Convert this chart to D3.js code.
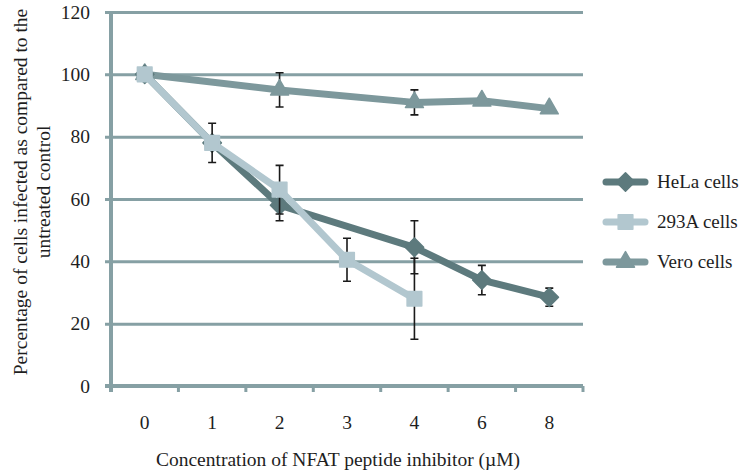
<!DOCTYPE html>
<html>
<head>
<meta charset="utf-8">
<script src="https://cdn.jsdelivr.net/npm/d3@7.9.0/dist/d3.min.js"></script>
<style>
  body { margin: 0; background: #fff; }
  svg { display: block; font-family: "Liberation Serif", "Times New Roman", serif; }
</style>
</head>
<body>
<svg id="chart" width="739" height="474"></svg>
<script>
/* --- Data --- */
const concentrations = ['0', '1', '2', '3', '4', '6', '8'];
const yTicks = [0, 20, 40, 60, 80, 100, 120];

// null = no measurement at that concentration
const helaValues = [100, 78, 58, null, 44.5, 34, 28.5];
const helaErrors = [0, 0, 5, null, 8.5, 4.7, 2.9];

const a293Values = [100, 78, 63, 40.5, 28, null, null];
const a293Errors = [0, 6.3, 7.8, 6.9, 13, null, null];

const veroValues = [100, null, 95, null, 91, 91.5, 89];
const veroErrors = [0, null, 5.5, null, 4, 0, 0];

// diamond = square turned 45 degrees
const diamond = {
  draw(ctx, size) {
    const r = Math.sqrt(size / 2);
    ctx.moveTo(0, -r); ctx.lineTo(r, 0); ctx.lineTo(0, r); ctx.lineTo(-r, 0); ctx.closePath();
  }
};

const series = [
  { name: 'Vero cells', values: veroValues, errors: veroErrors, color: '#7d989c', shape: d3.symbolTriangle, size: 140 },
  { name: 'HeLa cells', values: helaValues, errors: helaErrors, color: '#5d7a7d', shape: diamond, size: 170 },
  { name: '293A cells', values: a293Values, errors: a293Errors, color: '#b2c7cf', shape: d3.symbolSquare, size: 215 }
];
const legendOrder = ['HeLa cells', '293A cells', 'Vero cells'];

/* --- Layout --- */
const plot = { left: 111, right: 583, top: 12, bottom: 386 };
const gridColor = '#86a0a4';
const textColor = '#1e1e1e';

const svg = d3.select('#chart');

const x = d3.scaleBand()
  .domain(concentrations)
  .range([plot.left, plot.right]);

const y = d3.scaleLinear()
  .domain([0, 120])
  .range([plot.bottom, plot.top]);

/* --- Gridlines + y labels --- */
const yAxis = svg.append('g')
  .attr('transform', `translate(${plot.left},0)`)
  .call(d3.axisLeft(y)
    .tickValues(yTicks)
    .tickSize(-(plot.right - plot.left))
    .tickPadding(21));
yAxis.select('.domain').remove();
yAxis.selectAll('.tick line')
  .attr('x1', -6)
  .attr('stroke', gridColor)
  .attr('stroke-width', 3);
yAxis.selectAll('.tick text')
  .attr('font-size', 19.5)
  .attr('font-family', '"Liberation Serif", serif')
  .attr('fill', textColor);

// y axis line
svg.append('line')
  .attr('x1', plot.left).attr('x2', plot.left)
  .attr('y1', plot.top - 1).attr('y2', plot.bottom + 6)
  .attr('stroke', gridColor)
  .attr('stroke-width', 4);

/* --- X axis --- */
svg.append('line')
  .attr('x1', plot.left - 6).attr('x2', plot.right)
  .attr('y1', plot.bottom).attr('y2', plot.bottom)
  .attr('stroke', gridColor)
  .attr('stroke-width', 4);

const bandEdges = concentrations.map(c => x(c)).concat([plot.right]);
svg.append('g').selectAll('line')
  .data(bandEdges)
  .enter()
  .append('line')
  .attr('x1', d => d).attr('x2', d => d)
  .attr('y1', plot.bottom).attr('y2', plot.bottom + 6)
  .attr('stroke', gridColor)
  .attr('stroke-width', 3);

svg.append('g').selectAll('text')
  .data(concentrations)
  .enter()
  .append('text')
  .attr('x', d => x(d) + x.bandwidth() / 2)
  .attr('y', 429)
  .attr('text-anchor', 'middle')
  .attr('font-size', 19.5)
  .attr('fill', textColor)
  .text(d => d);

/* --- Axis titles --- */
svg.append('text')
  .attr('x', 338)
  .attr('y', 466)
  .attr('text-anchor', 'middle')
  .attr('font-size', 19.5)
  .attr('fill', textColor)
  .text('Concentration of NFAT peptide inhibitor (\u00b5M)');

const yTitle = svg.append('text')
  .attr('transform', 'translate(0,192) rotate(-90)')
  .attr('text-anchor', 'middle')
  .attr('font-size', 19.5)
  .attr('fill', textColor);
yTitle.append('tspan').attr('x', 0).attr('y', 27)
  .text('Percentage of cells infected as compared to the');
yTitle.append('tspan').attr('x', 0).attr('y', 50)
  .text('untreated control');

/* --- Series --- */
const cx = c => x(c) + x.bandwidth() / 2;

series.forEach(s => {
  const pts = concentrations
    .map((c, i) => ({ c, v: s.values[i], e: s.errors[i] }))
    .filter(p => p.v !== null);

  const g = svg.append('g');

  // error bars
  g.selectAll('.err')
    .data(pts.filter(p => p.e > 0))
    .enter()
    .append('path')
    .attr('fill', 'none')
    .attr('stroke', '#1a1a1a')
    .attr('stroke-width', 1.6)
    .attr('d', p => {
      const X = cx(p.c), t = y(p.v + p.e), b = y(p.v - p.e);
      return `M${X},${t}V${b}M${X - 4},${t}H${X + 4}M${X - 4},${b}H${X + 4}`;
    });

  // line
  const line = d3.line().x(p => cx(p.c)).y(p => y(p.v));
  g.append('path')
    .datum(pts)
    .attr('d', line)
    .attr('fill', 'none')
    .attr('stroke', s.color)
    .attr('stroke-width', 7)
    .attr('stroke-linejoin', 'round');

  // markers
  g.selectAll('.mark')
    .data(pts)
    .enter()
    .append('path')
    .attr('transform', p => `translate(${cx(p.c)},${y(p.v)})`)
    .attr('d', d3.symbol().type(s.shape).size(s.size))
    .attr('fill', s.color)
    .attr('stroke', s.color)
    .attr('stroke-width', 1.5)
    .attr('stroke-linejoin', 'round');
});

/* --- Legend --- */
const legend = svg.append('g');
legendOrder.forEach((name, i) => {
  const s = series.find(d => d.name === name);
  const ly = 182 + i * 40;
  legend.append('line')
    .attr('x1', 606).attr('x2', 645)
    .attr('y1', ly).attr('y2', ly)
    .attr('stroke', s.color)
    .attr('stroke-width', 7)
    .attr('stroke-linecap', 'round');
  legend.append('path')
    .attr('transform', `translate(625.5,${ly})`)
    .attr('d', d3.symbol().type(s.shape).size(s.size))
    .attr('fill', s.color)
    .attr('stroke', s.color)
    .attr('stroke-width', 1.5)
    .attr('stroke-linejoin', 'round');
  legend.append('text')
    .attr('x', 657)
    .attr('y', ly + 6)
    .attr('font-size', 19)
    .attr('fill', textColor)
    .text(name);
});
</script>
</body>
</html>
